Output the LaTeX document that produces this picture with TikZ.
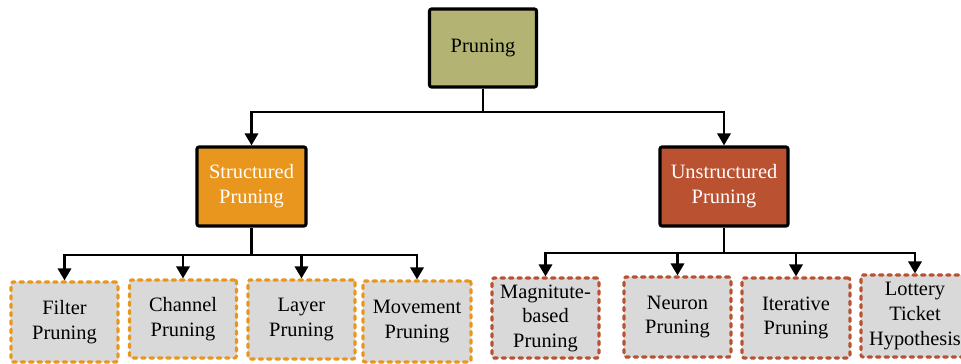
\documentclass[tikz,border=0pt]{standalone}
\usepackage{fontspec}
\setmainfont{Liberation Serif}
\usetikzlibrary{arrows.meta}
\definecolor{rootfill}{HTML}{B3B474}
\definecolor{structfill}{HTML}{E8961E}
\definecolor{unstructfill}{HTML}{BA5232}
\definecolor{leaffill}{HTML}{D9D9D9}
% one unit of the drawing grid
\newcommand{\gu}{0.75pt}
\tikzset{
  topbox/.style={draw=black, line width=2.3pt, rounded corners=1.5pt,
    minimum width=#1*\gu, minimum height=79*\gu, inner sep=0pt, align=center,
    font=\fontsize{15.3}{18.8}\selectfont},
  leafbox/.style={draw=#1, line width=2.3pt, rounded corners=1.5pt, fill=leaffill,
    dash pattern=on 2.7pt off 3.6pt, line cap=round,
    minimum width=107*\gu, minimum height=80*\gu, inner sep=0pt, align=center,
    font=\fontsize{15.3}{18.4}\selectfont},
  conn/.style={draw=black, line width=2.2pt},
  arr/.style={conn, -{Triangle[width=9.8pt,length=9pt]}},
}
\begin{document}
\begin{tikzpicture}[x=0.75pt,y=-0.75pt]
\useasboundingbox (0,0) rectangle (961,364);

% top level
\node[topbox=107, fill=rootfill, minimum height=78*\gu] (root) at (483,48) {Pruning};
\node[topbox=109, fill=structfill, text=white] (struct) at (251.5,186.5) {Structured\\Pruning};
\node[topbox=128, fill=unstructfill, text=white] (unstruct) at (724,186.5) {Unstructured\\Pruning};

% structured leaves
\node[leafbox=structfill] (filter)   at (64.5,322)  {Filter\\Pruning};
\node[leafbox=structfill, minimum height=78*\gu] (channel)  at (183,319)   {Channel\\Pruning};
\node[leafbox=structfill, minimum height=79*\gu] (layer)    at (301.5,319.5) {Layer\\Pruning};
\node[leafbox=structfill, minimum width=108*\gu, minimum height=81*\gu] (movement) at (417,321.5) {Movement\\Pruning};

% unstructured leaves
\node[leafbox=unstructfill] (magnitude) at (545.5,318) {Magnitute-\\based\\Pruning};
\node[leafbox=unstructfill] (neuron)    at (677.5,317) {Neuron\\Pruning};
\node[leafbox=unstructfill, minimum width=108*\gu] (iterative) at (796,318) {Iterative\\Pruning};
\node[leafbox=unstructfill, minimum width=108*\gu, minimum height=82*\gu] (lottery) at (915,316) {Lottery\\Ticket\\Hypothesis};

% connectors
\coordinate (j0) at (483,112);
\coordinate (j1) at (251.5,255);
\coordinate (j2) at (724,253);

\draw[conn] (root.south) -- (j0);
\draw[arr] (j0) -| (struct.north);
\draw[arr] (j0) -| (unstruct.north);

\draw[conn] (struct.south) -- (j1);
\foreach \n in {filter,channel,layer,movement}
  \draw[arr] (j1) -| (\n.north);

\draw[conn] (unstruct.south) -- (j2);
\foreach \n in {magnitude,neuron,iterative,lottery}
  \draw[arr] (j2) -| (\n.north);
\end{tikzpicture}
\end{document}
